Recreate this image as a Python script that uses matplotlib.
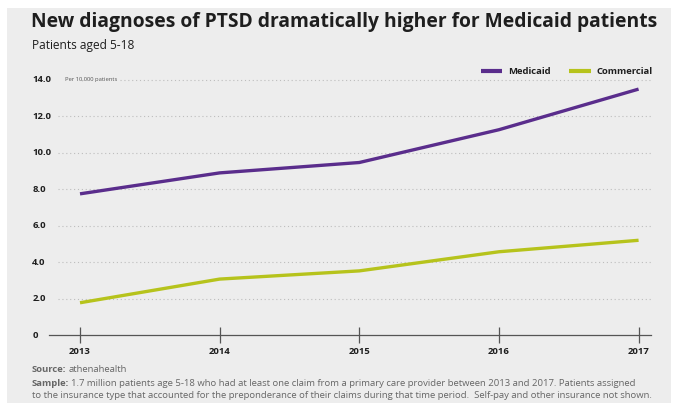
import matplotlib
matplotlib.use("Agg")
import matplotlib.pyplot as plt
from matplotlib.patches import Rectangle

# data
years = [2013, 2014, 2015, 2016, 2017]
medicaid = [7.75, 8.9, 9.47, 11.27, 13.5]
commercial = [1.77, 3.07, 3.52, 4.57, 5.2]
y_ticks = [0, 2, 4, 6, 8, 10, 12, 14]
y_labels = ["0", "2.0", "4.0", "6.0", "8.0", "10.0", "12.0", "14.0"]

PURPLE = "#5a2d8c"
GREEN = "#b6c31c"
BG = "#ededed"
TEXT = "#1e1e1e"
GREY = "#666666"

plt.rcParams["font.family"] = ["Open Sans", "DejaVu Sans"]

W, H = 673, 403
fig = plt.figure(figsize=(W / 100, H / 100), dpi=100)
fig.patch.set_facecolor("white")
fig.patches.append(Rectangle((7 / W, 0), 1 - 9 / W, 1 - 8 / H,
                             transform=fig.transFigure, facecolor=BG,
                             edgecolor="none", zorder=-10))


def fx(px):
    return px / W


def fy(py):
    return 1 - py / H


# axes: left edge 49px, right 651px, y=0 at 335px, 14 at 80px
y_top = 14.5
px_per_unit = (335 - 80) / 14
ax_top = 335 - y_top * px_per_unit
ax = fig.add_axes([fx(49), fy(335), fx(651) - fx(49), (335 - ax_top) / H])
ax.set_facecolor("none")
ax.set_xlim(2012.778, 2017.089)
ax.set_ylim(0, y_top)

for s in ["top", "right", "left"]:
    ax.spines[s].set_visible(False)
ax.spines["bottom"].set_color("#555555")
ax.spines["bottom"].set_linewidth(0.9)

ax.set_yticks([])
ax.set_xticks(years)
ax.set_xticklabels([str(y) for y in years], fontsize=6.8, fontweight="bold", color=TEXT)
ax.tick_params(axis="x", direction="inout", length=11, width=0.9, color="#555555", pad=3)

# dotted gridlines and left-aligned y labels
ytrans = ax.get_yaxis_transform()
for val, lab in zip(y_ticks, y_labels):
    ax.text(-0.028, val, lab, transform=ytrans, ha="left", va="center",
            fontsize=6.8, fontweight="bold", color=TEXT)
    if val == 0:
        continue
    start = 0.118 if val == 14 else 0.015
    ax.axhline(val, xmin=start, xmax=1.0, color="#bdbdbd", lw=0.8,
               ls=(0, (1, 2.5)), zorder=0)
ax.text(0.027, 14, "Per 10,000 patients", transform=ytrans, ha="left", va="center",
        fontsize=4.2, color="#555555")

ax.plot(years, medicaid, color=PURPLE, lw=2.4, solid_capstyle="butt", label="Medicaid")
ax.plot(years, commercial, color=GREEN, lw=2.4, solid_capstyle="butt", label="Commercial")

leg = ax.legend(loc="center right", bbox_to_anchor=(fx(653), fy(72)),
                bbox_transform=fig.transFigure, ncol=2, frameon=False,
                prop={"size": 6.8, "weight": "bold"}, handlelength=2.3,
                handletextpad=0.6, columnspacing=2.0, borderaxespad=0, borderpad=0)
for line in leg.get_lines():
    line.set_linewidth(3)
for t in leg.get_texts():
    t.set_color(TEXT)

# titles
fig.text(fx(31), fy(22), "New diagnoses of PTSD dramatically higher for Medicaid patients",
         ha="left", va="center", fontsize=13.9, fontweight="bold", color=TEXT)
fig.text(fx(32), fy(46), "Patients aged 5-18", ha="left", va="center",
         fontsize=8.6, color=TEXT)

# footer with bold lead-ins
fig.canvas.draw()
renderer = fig.canvas.get_renderer()
FOOT = 6.8


def lead_text(y_px, bold, rest):
    t = fig.text(fx(32), fy(y_px), bold, ha="left", va="center",
                 fontsize=FOOT, fontweight="bold", color=GREY)
    bb = t.get_window_extent(renderer)
    fig.text(bb.x1 / W + 2 / W, fy(y_px), rest, ha="left", va="center",
             fontsize=FOOT, color=GREY)


lead_text(370, "Source:", "athenahealth")
lead_text(383, "Sample:", "1.7 million patients age 5-18 who had at least one claim from a "
          "primary care provider between 2013 and 2017. Patients assigned")
fig.text(fx(32), fy(396), "to the insurance type that accounted for the preponderance of their "
         "claims during that time period.  Self-pay and other insurance not shown.",
         ha="left", va="center", fontsize=FOOT, color=GREY)

fig.savefig("out.png", dpi=100, facecolor=fig.get_facecolor())
